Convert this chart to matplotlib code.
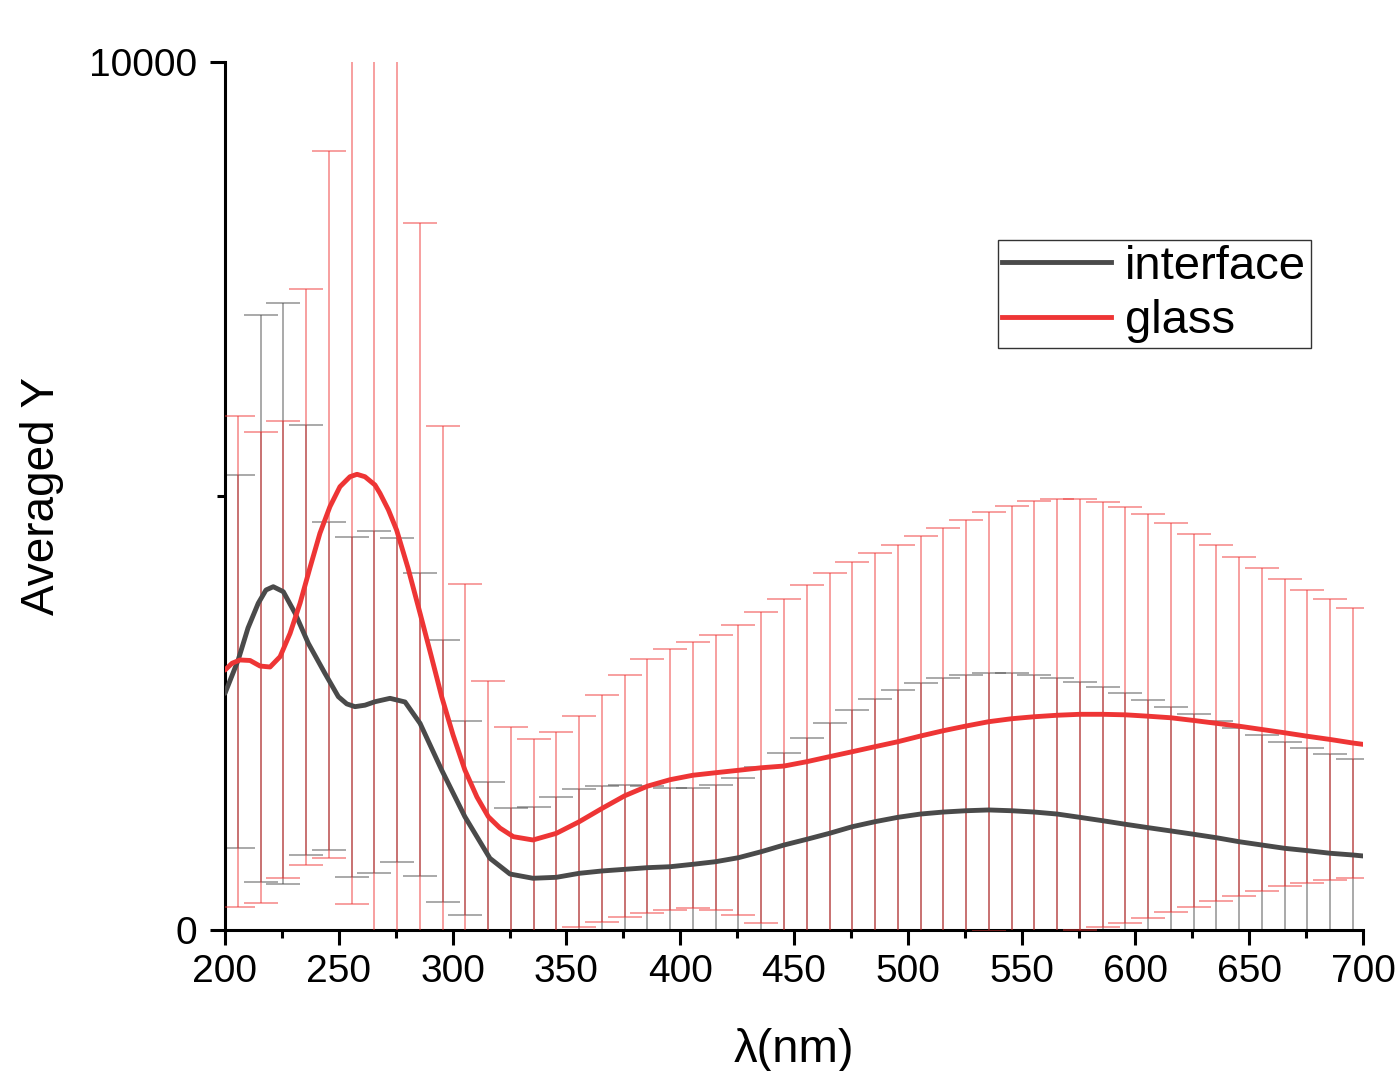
import numpy as np
import matplotlib
matplotlib.use("Agg")
import matplotlib.pyplot as plt
from matplotlib.lines import Line2D

plt.rcParams['font.family'] = ['Liberation Sans', 'DejaVu Sans']

# error bar positions (nm), one every 10 nm
bar_x = np.arange(205.6, 700, 10.0)

# interface: mean and sd at the error bar positions
interface_mean = [3095, 3823, 3877, 3345, 2808, 2573, 2627, 2652, 2368, 1828,
                  1290, 845, 653, 596, 607, 653, 680, 699, 718, 729,
                  757, 787, 833, 902, 979, 1045, 1114, 1190, 1248, 1298,
                  1336, 1359, 1374, 1383, 1374, 1359, 1336, 1298, 1259, 1218,
                  1179, 1141, 1103, 1063, 1017, 979, 941, 914, 884, 864]
interface_sd = [2148, 3266, 3343, 2477, 1889, 1959, 1974, 1868, 1745, 1509,
                1118, 857, 756, 825, 922, 968, 983, 971, 945, 907,
                879, 880, 915, 979, 1063, 1171, 1267, 1345, 1417, 1467,
                1509, 1540, 1563, 1575, 1583, 1578, 1563, 1555, 1537, 1509,
                1471, 1429, 1386, 1348, 1310, 1271, 1228, 1187, 1148, 1103]

# glass: mean and sd at the error bar positions
glass_mean = [3090, 3022, 3235, 4068, 4900, 5231, 5138, 4608, 3652, 2684,
              1843, 1302, 1095, 1037, 1114, 1247, 1400, 1546, 1657, 1732,
              1783, 1812, 1840, 1869, 1889, 1939, 1997, 2054, 2112, 2169,
              2235, 2296, 2350, 2400, 2434, 2457, 2474, 2485, 2485, 2479,
              2463, 2445, 2414, 2381, 2348, 2310, 2272, 2232, 2195, 2154]
glass_sd = [2828, 2712, 2633, 3317, 4075, 4928, 5760, 5990, 4493, 3126,
            2146, 1567, 1248, 1160, 1164, 1215, 1304, 1395, 1465, 1502,
            1531, 1583, 1671, 1792, 1927, 2032, 2113, 2182, 2228, 2270,
            2301, 2332, 2373, 2412, 2454, 2482, 2492, 2480, 2446, 2394,
            2326, 2241, 2149, 2051, 1953, 1857, 1768, 1689, 1619, 1559]

# denser samples of the averaged curves in the UV part
interface_uv_x = [200.0, 205.8, 210.1, 214.6, 218.0, 221.2, 225.6, 230.8, 236.6, 243.9,
                  249.8, 253.5, 257.1, 261.5, 265.9, 272.5, 279.1, 285.7, 295.2, 305.4,
                  316.4, 325.2, 335.3]
interface_uv_y = [2727, 3111, 3479, 3764, 3917, 3955, 3898, 3649, 3303, 2957,
                  2688, 2605, 2573, 2590, 2630, 2669, 2627, 2381, 1843, 1305,
                  826, 645, 596]
glass_uv_x = [200.0, 203.1, 206.6, 211.0, 215.4, 219.8, 224.2, 228.6, 233.0, 237.3,
              241.7, 246.1, 250.5, 254.9, 258.0, 261.5, 265.9, 268.1, 271.8, 275.4,
              280.4, 285.7, 290.5, 295.2, 300.2, 305.4, 310.7, 315.7, 320.8, 326.7,
              335.3]
glass_uv_y = [2995, 3073, 3111, 3105, 3041, 3030, 3149, 3418, 3767, 4171,
              4570, 4877, 5107, 5222, 5250, 5222, 5127, 5031, 4840, 4608,
              4171, 3649, 3168, 2688, 2247, 1843, 1532, 1305, 1175, 1075,
              1037]
interface_end = 853
glass_end = 2139

gray = '#4a4a4a'
red = '#ee3535'

# full curves = UV samples + bar means + last point at 700 nm
interface_x = interface_uv_x + list(bar_x[14:]) + [700.0]
interface_y = interface_uv_y + interface_mean[14:] + [interface_end]
glass_x = glass_uv_x + list(bar_x[14:]) + [700.0]
glass_y = glass_uv_y + glass_mean[14:] + [glass_end]

fig = plt.figure(figsize=(13.98, 10.71), dpi=100)
ax = fig.add_axes([225/1398, 141/1071, 1138/1398, 868/1071])

ax.errorbar(bar_x, interface_mean, yerr=interface_sd, fmt='none', ecolor=gray,
            elinewidth=1.1, capsize=12, capthick=1.1, alpha=0.6, zorder=2)
ax.errorbar(bar_x, glass_mean, yerr=glass_sd, fmt='none', ecolor=red,
            elinewidth=1.1, capsize=12, capthick=1.1, alpha=0.6, zorder=3)
ax.plot(interface_x, interface_y, color=gray, lw=3.5, zorder=4,
        solid_joinstyle='round', solid_capstyle='round')
ax.plot(glass_x, glass_y, color=red, lw=3.5, zorder=5,
        solid_joinstyle='round', solid_capstyle='round')

ax.set_xlim(200, 700)
ax.set_ylim(0, 10000)
ax.set_xticks(np.arange(200, 701, 50))
ax.set_xticks(np.arange(225, 700, 50), minor=True)
ax.set_yticks([0, 10000])
ax.set_yticks([5000], minor=True)

for s in ['top', 'right']:
    ax.spines[s].set_visible(False)
for s in ['left', 'bottom']:
    ax.spines[s].set_linewidth(2.2)
ax.tick_params(which='major', direction='out', length=11, width=2.2, labelsize=28)
ax.tick_params(axis='x', which='major', pad=6)
ax.tick_params(axis='y', which='major', pad=9)
ax.tick_params(which='minor', direction='out', length=6, width=2.2)

ax.set_xlabel('λ(nm)', fontsize=34, labelpad=28)
ax.set_ylabel('Averaged Y', fontsize=33, labelpad=18)

handles = [Line2D([], [], color=gray, lw=3.5), Line2D([], [], color=red, lw=3.5)]
leg = ax.legend(handles, ['interface', 'glass'], loc='upper left',
                bbox_to_anchor=(0.679, 0.795), fontsize=34, frameon=True,
                fancybox=False, edgecolor='#333333', framealpha=1,
                borderpad=0.1, borderaxespad=0, handlelength=2.3,
                handletextpad=0.3, labelspacing=0.22)
leg.get_frame().set_linewidth(1.0)

fig.savefig('out.png', dpi=100)
